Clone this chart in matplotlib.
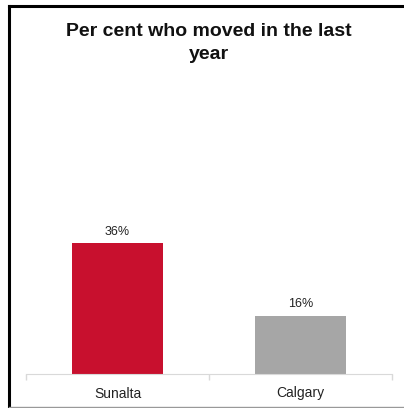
import matplotlib.pyplot as plt
from matplotlib.lines import Line2D

plt.rcParams['font.family'] = ['Liberation Sans', 'DejaVu Sans']

categories = ['Sunalta', 'Calgary']
values = [36, 16]
colors = ['#c8102e', '#a6a6a6']

W, H = 404, 408
fig = plt.figure(figsize=(W / 100, H / 100), dpi=100)

# axes placed in pixel terms: baseline at y=374, x from 26 to 392
x0, x1 = 26, 392
ybase = 374
ymax = 80
ppu = 3.63
top = ybase - ymax * ppu
ax = fig.add_axes([x0 / W, (H - ybase) / H, (x1 - x0) / W, (ybase - top) / H])

pos = list(range(len(categories)))
bars = ax.bar(pos, values, width=0.5, color=colors)
for b, v in zip(bars, values):
    ax.text(b.get_x() + b.get_width() / 2, v + 1.5, f'{v}%',
            ha='center', va='bottom', fontsize=9, color='#222222')

ax.set_xlim(-0.5, len(categories) - 0.5)
ax.set_ylim(0, ymax)
ax.set_xticks(pos)
ax.set_xticklabels(categories, fontsize=10, color='#222222')
ax.set_xticks([-0.5, 0.5, 1.5], minor=True)
ax.tick_params(axis='x', which='major', length=0, pad=9)
ax.tick_params(axis='x', which='minor', length=4, color='#d9d9d9', width=1)
ax.set_yticks([])
for s in ['top', 'right', 'left']:
    ax.spines[s].set_visible(False)
ax.spines['bottom'].set_color('#d9d9d9')

fig.text(209 / W, 1 - 43 / H, 'Per cent who moved in the last\nyear',
         ha='center', va='center', fontsize=14, fontweight='bold',
         linespacing=1.45, color='#111111')

# outer frame
fig.add_artist(Line2D([9 / W, 1], [1 - 6 / H, 1 - 6 / H], color='black', lw=2.2))
fig.add_artist(Line2D([9 / W, 9 / W], [0, 1 - 6 / H], color='black', lw=2.2))
fig.add_artist(Line2D([9 / W, 1], [1.5 / H, 1.5 / H], color='#999999', lw=1))

fig.savefig('out.png', dpi=100)
